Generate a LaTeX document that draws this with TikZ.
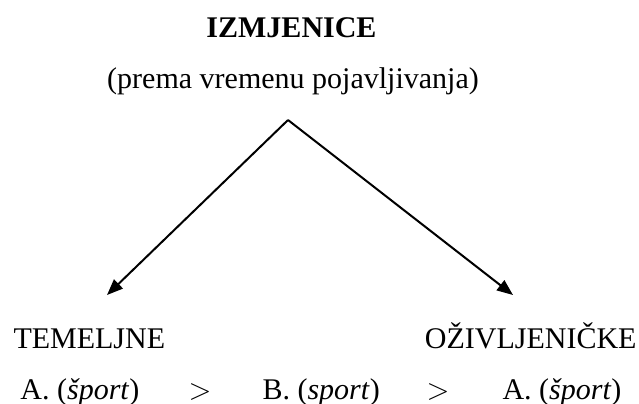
\documentclass[tikz,border=0pt]{standalone}
\usepackage{fontspec}
\setmainfont{Liberation Serif}
\usetikzlibrary{arrows.meta}

\begin{document}
\begin{tikzpicture}[
      x=0.4pt, y=-0.4pt,
      font=\fontsize{12}{14}\selectfont,
      lbl/.style={inner sep=0pt, anchor=base},
      arr/.style={-{Triangle[length=6.4pt,width=5pt]}, line width=0.8pt},
    ]
      \useasboundingbox (0,0) rectangle (639,403);

      % Title
      \node[lbl, font=\fontsize{12}{14}\selectfont\bfseries] (title) at (291.5, 37)
            {IZMJENICE};
      \node[lbl] (sub) at (293, 88) {(prema vremenu pojavljivanja)};

      % Branches
      \coordinate (top) at (288, 120);
      \coordinate (ltip) at (107, 295);
      \coordinate (rtip) at (513, 295);
      \node[lbl, anchor=base west] (tem) at (13, 348) {TEMELJNE};
      \node[lbl, anchor=base east] (ozi) at (637, 348) {OŽIVLJENIČKE};

      % Row
      \node[lbl, anchor=base west] (a1) at (20, 399) {A. (\textit{šport})};
      \node[lbl] (g1) at (200, 399) {$>$};
      \node[lbl, anchor=base west] (b1) at (262, 399) {B. (\textit{sport})};
      \node[lbl] (g2) at (438, 399) {$>$};
      \node[lbl, anchor=base west] (a2) at (502, 399) {A. (\textit{šport})};

      % Arrows
      \draw[arr] (top)--(ltip);
      \draw[arr] (top)--(rtip);
    \end{tikzpicture}
\end{document}
